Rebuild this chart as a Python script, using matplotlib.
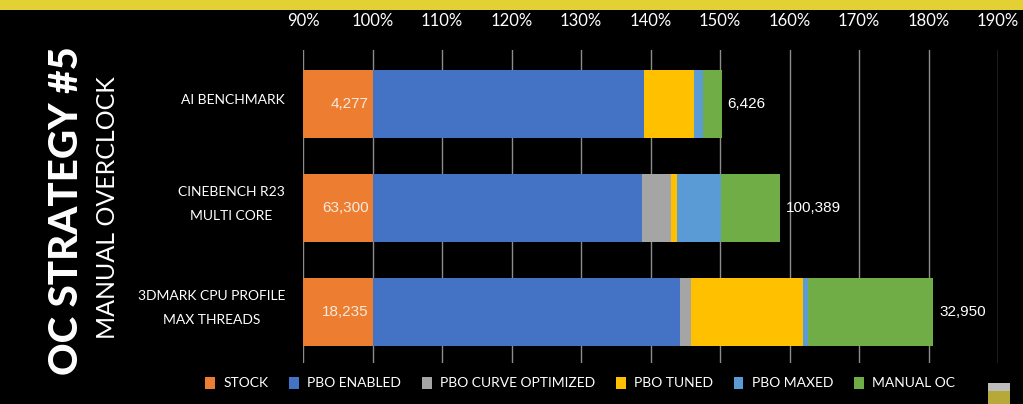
import matplotlib
matplotlib.use("Agg")
import matplotlib.pyplot as plt
from matplotlib.patches import Rectangle
import numpy as np

categories = ["AI BENCHMARK", "CINEBENCH R23\nMULTI CORE", "3DMARK CPU PROFILE\nMAX THREADS"]
stages = ["STOCK", "PBO ENABLED", "PBO CURVE OPTIMIZED", "PBO TUNED", "PBO MAXED", "MANUAL OC"]
colors = ["#ED7D31", "#4472C4", "#A5A5A5", "#FFC000", "#5B9BD5", "#70AD47"]
# cumulative performance (% of stock) after each stage
cum_ai = [100, 139.1, 139.1, 146.3, 147.6, 150.25]
cum_cb = [100, 138.8, 143.0, 143.8, 150.2, 158.6]
cum_3d = [100, 144.3, 145.8, 161.9, 162.7, 180.7]
stock_labels = ["4,277", "63,300", "18,235"]
final_labels = ["6,426", "100,389", "32,950"]
xticks = list(range(90, 191, 10))

cums = [cum_ai, cum_cb, cum_3d]
W, H = 1023, 404
fig = plt.figure(figsize=(W / 100, H / 100), dpi=100, facecolor="black")

# top yellow strip
fig.patches.append(Rectangle((0, 1 - 10 / H), 1, 10 / H, transform=fig.transFigure,
                             facecolor="#E3D032", edgecolor="none", zorder=0))

ax_l, ax_r, ax_t, ax_b = 303, 998, 50, 363
ax = fig.add_axes([ax_l / W, 1 - ax_b / H, (ax_r - ax_l) / W, (ax_b - ax_t) / H])
ax.set_facecolor("black")
xmin, xmax = 90, 190
ax.set_xlim(xmin, xmax)
ax.set_ylim(2 + 51 / 104, -54 / 104)

y = np.arange(len(categories))
bh = 0.663
handles = []
for si, st in enumerate(stages):
    lefts = [xmin if si == 0 else c[si - 1] for c in cums]
    widths = [c[si] - l for c, l in zip(cums, lefts)]
    b = ax.barh(y, widths, left=lefts, height=bh, color=colors[si], label=st, zorder=3)
    handles.append(b)

for i, c in enumerate(cums):
    ax.annotate(stock_labels[i], (c[0], i), xytext=(-4, 0), textcoords="offset pixels",
                ha="right", va="center", color="#F6EBDD", fontsize=11,
                family="Liberation Sans", zorder=5)
    ax.annotate(final_labels[i], (c[-1], i), xytext=(6, 0), textcoords="offset pixels",
                ha="left", va="center", color="white", fontsize=11,
                family="Liberation Sans", zorder=5)

ax.set_xticks(xticks)
ax.set_xticklabels([f"{t}%" for t in xticks], color="white", fontsize=12, family="Lato")
ax.xaxis.tick_top()
ax.tick_params(axis="x", length=0, pad=15)
ax.set_yticks([])
ax.grid(axis="x", color="#8C8C8C", linewidth=1, zorder=1)
for s in ax.spines.values():
    s.set_visible(False)

# category labels
for i, cat in enumerate(categories):
    ax.annotate(cat, (0, i), xycoords=("axes fraction", "data"), xytext=(-18, 4),
                textcoords="offset pixels", ha="right", va="center", color="white",
                fontsize=10, family="Lato", linespacing=2.2, multialignment="center")

# vertical titles
fig.text(67 / W, 1 - 211 / H, "OC STRATEGY #5", rotation=90, ha="center", va="center",
         color="white", fontsize=29, family="Lato", fontweight="black")
fig.text(108 / W, 1 - 208 / H, "MANUAL OVERCLOCK", rotation=90, ha="center", va="center",
         color="white", fontsize=18, family="Lato", fontweight="normal")

leg = fig.legend(handles=handles, labels=stages, loc="center", ncol=6,
                 bbox_to_anchor=(580 / W, 1 - 383 / H), frameon=False,
                 handlelength=0.7, handleheight=0.95, handletextpad=0.6,
                 columnspacing=1.5, prop={"family": "Lato", "size": 10})
for t in leg.get_texts():
    t.set_color("white")

# small thumbnail in corner
fig.patches.append(Rectangle((988 / W, 0), 22 / W, 13 / H, transform=fig.transFigure,
                             facecolor="#B7A83A", edgecolor="none"))
fig.patches.append(Rectangle((988 / W, 13 / H), 22 / W, 8 / H, transform=fig.transFigure,
                             facecolor="#BDBDBD", edgecolor="none"))

fig.savefig("out.png", dpi=100, facecolor="black")
